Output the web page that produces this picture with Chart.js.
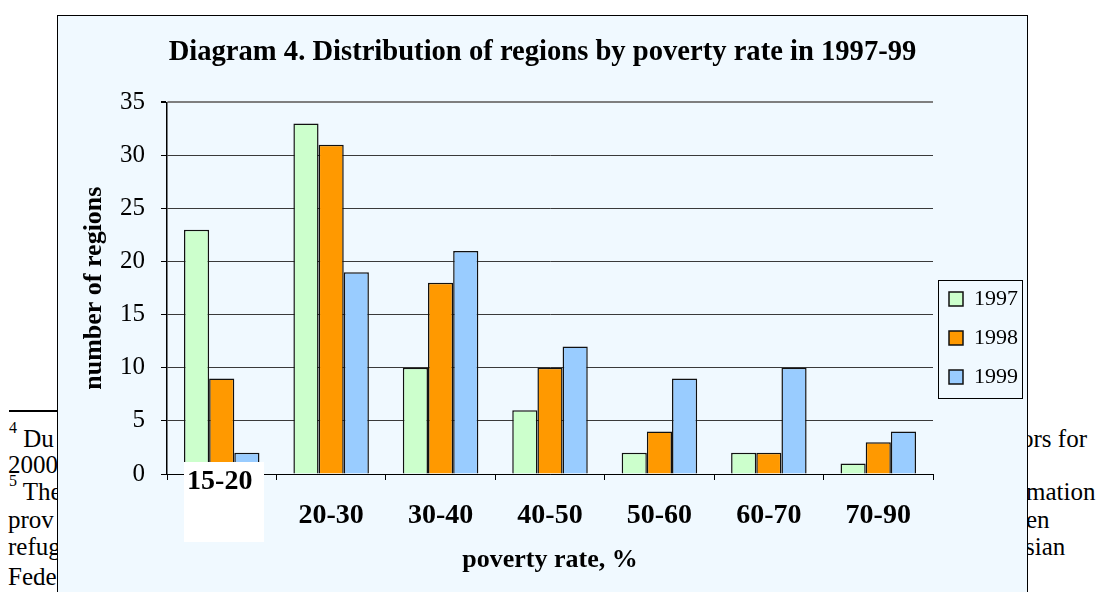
<!DOCTYPE html>
<html>
<head>
<meta charset="utf-8">
<script src="https://cdn.jsdelivr.net/npm/chart.js@4.4.1/dist/chart.umd.min.js"></script>
<style>
    body { margin: 0; background: #ffffff; overflow: hidden; width: 1098px; height: 592px; position: relative; font-family: 'Liberation Serif', 'Times New Roman', serif; }
    .pagetext { position: absolute; font-size: 25px; color: #000; white-space: nowrap; line-height: 1; }
    .pagetext sup { font-size: 16px; position: relative; top: -14px; vertical-align: baseline; line-height: 0; }
    .rule { position: absolute; left: 9px; top: 410px; width: 60px; height: 2px; background: #000; }
    #box { position: absolute; left: 57px; top: 15px; border: 1px solid #000; background: #f0f9ff; }
    #wrap { position: relative; width: 969px; height: 576px; }
</style>
</head>
<body>
<div class="rule"></div>
<div class="pagetext" style="left:9px; top:426px;"><sup>4</sup> Du</div>
<div class="pagetext" style="left:8px; top:452px;">2000</div>
<div class="pagetext" style="left:9px; top:479px;"><sup>5</sup> The</div>
<div class="pagetext" style="left:8px; top:507px;">prov</div>
<div class="pagetext" style="left:8px; top:534px;">refug</div>
<div class="pagetext" style="left:8px; top:564px;">Fede</div>
<div class="pagetext" style="left:1021px; top:426px;">ors for</div>
<div class="pagetext" style="left:1026px; top:479px;">mation</div>
<div class="pagetext" style="left:1026px; top:507px;">en</div>
<div class="pagetext" style="left:1025px; top:534px;">sian</div>

<div id="box"><div id="wrap"><canvas id="bar-chart"></canvas></div></div>

<script>
    var categories = ['15-20', '20-30', '30-40', '40-50', '50-60', '60-70', '70-90'];
    var years = ['1997', '1998', '1999'];
    var regions1997 = [23, 33, 10, 6, 2, 2, 1];
    var regions1998 = [9, 31, 18, 10, 4, 2, 3];
    var regions1999 = [2, 19, 21, 12, 9, 10, 4];
    var yTicks = [0, 5, 10, 15, 20, 25, 30, 35];

    var serif = "'Liberation Serif', 'Times New Roman', serif";
    var legendLeft = 874;
    var legendTop = 255;

    // white patch sitting over the first category label in the scan
    var patchPlugin = {
        id: 'patch',
        afterDraw: function (chart) {
            var ctx = chart.ctx;
            var x = chart.scales.x.getPixelForValue(0);
            ctx.save();
            ctx.fillStyle = '#ffffff';
            ctx.fillRect(Math.round(x - 38), 446, 80, 80);
            ctx.fillStyle = '#000';
            ctx.font = 'bold 28px ' + serif;
            ctx.textAlign = 'center';
            ctx.textBaseline = 'middle';
            ctx.fillText(categories[0], x - 2, 466);
            ctx.restore();
        }
    };

    // move the legend where the original has it and frame it
    var legendBoxPlugin = {
        id: 'legendBox',
        afterLayout: function (chart) {
            var lg = chart.legend;
            var w = lg.width;
            lg.left = legendLeft;
            lg.right = legendLeft + w;
            lg.top = legendTop;
            lg.bottom = legendTop + 300;
            lg.height = 300;
        },
        afterDraw: function (chart) {
            var ctx = chart.ctx;
            ctx.save();
            ctx.strokeStyle = '#000';
            ctx.lineWidth = 1;
            ctx.strokeRect(legendLeft + 6.5, legendTop + 9.5, 84, 118);
            ctx.restore();
        }
    };

    new Chart(document.getElementById('bar-chart'), {
        type: 'bar',
        data: {
            labels: categories,
            datasets: [{
                label: years[0],
                data: regions1997,
                backgroundColor: '#ccffcc',
                borderColor: '#111',
                borderWidth: 1.5
            }, {
                label: years[1],
                data: regions1998,
                backgroundColor: '#ff9900',
                borderColor: '#111',
                borderWidth: 1.5
            }, {
                label: years[2],
                data: regions1999,
                backgroundColor: '#99ccff',
                borderColor: '#111',
                borderWidth: 1.5
            }]
        },
        options: {
            responsive: true,
            maintainAspectRatio: false,
            animation: false,
            layout: { padding: { left: 0, right: 0, top: 0, bottom: 0 } },
            datasets: {
                bar: { categoryPercentage: 0.69, barPercentage: 1 }
            },
            plugins: {
                title: {
                    display: true,
                    text: 'Diagram 4. Distribution of regions by poverty rate in 1997-99',
                    color: '#000',
                    font: { family: serif, size: 28.6, weight: 'bold' },
                    padding: { top: 19, bottom: 33 }
                },
                legend: {
                    position: 'right',
                    align: 'start',
                    maxWidth: 94,
                    labels: {
                        color: '#000',
                        font: { family: serif, size: 22 },
                        boxWidth: 14,
                        boxHeight: 14,
                        padding: 17
                    }
                },
                tooltip: { enabled: false }
            },
            scales: {
                x: {
                    grid: {
                        display: true,
                        drawOnChartArea: false,
                        drawTicks: true,
                        tickLength: 6,
                        tickColor: '#000'
                    },
                    border: { color: '#000', width: 1 },
                    ticks: {
                        color: '#000',
                        padding: 19,
                        font: { family: serif, size: 28, weight: 'bold' },
                        callback: function (v, i) { return i === 0 ? '' : categories[i]; }
                    },
                    title: {
                        display: true,
                        text: 'poverty rate, %',
                        color: '#000',
                        font: { family: serif, size: 26, weight: 'bold' },
                        padding: { top: 0, bottom: 16 }
                    },
                    afterFit: function (scale) { scale.height = 118; }
                },
                y: {
                    min: 0,
                    max: 35,
                    afterBuildTicks: function (scale) {
                        scale.ticks = yTicks.map(function (v) { return { value: v }; });
                    },
                    grid: {
                        color: function (c) { return c.tick && c.tick.value === 35 ? '#7f7f7f' : '#3a3a3a'; },
                        lineWidth: function (c) { return c.tick && c.tick.value === 35 ? 2 : 1; },
                        tickColor: '#000',
                        tickLength: 6
                    },
                    border: { color: '#000', width: 1.5 },
                    ticks: {
                        color: '#000',
                        padding: 16,
                        font: { family: serif, size: 25 }
                    },
                    title: {
                        display: true,
                        text: 'number of regions',
                        color: '#000',
                        font: { family: serif, size: 26, weight: 'bold' },
                        padding: { top: 21, bottom: 0 }
                    },
                    afterFit: function (scale) { scale.width = 109; }
                }
            }
        },
        plugins: [patchPlugin, legendBoxPlugin]
    });
</script>
</body>
</html>
